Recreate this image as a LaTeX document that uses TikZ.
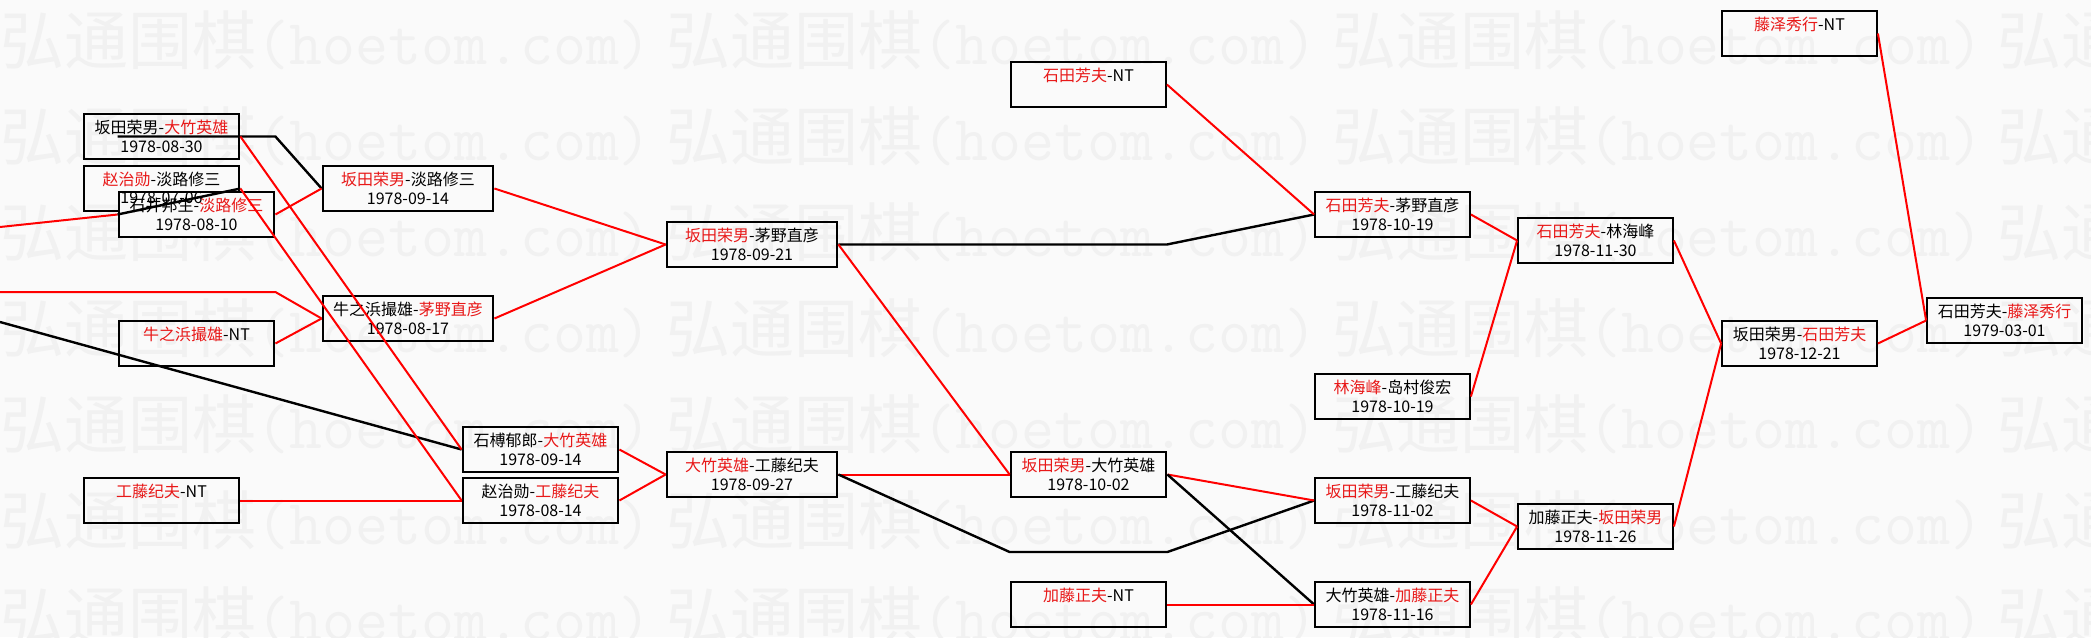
\documentclass[tikz,border=0pt]{standalone}
\usepackage{fontspec}
\setmainfont{Noto Sans CJK SC}
\usepackage{xcolor}
\usetikzlibrary{positioning}
\definecolor{paper}{RGB}{250,250,250}
\definecolor{mark}{RGB}{241,241,241}
\definecolor{winred}{RGB}{232,24,24}
\newcommand{\redname}[1]{\textcolor{winred}{#1}}
\tikzset{
    match/.style={draw, line width=0.9pt, minimum width=77.5pt, minimum height=22.5pt,
        inner sep=0pt, align=center, font=\fontsize{8}{9.5}\selectfont}, % one game box
    wide/.style={minimum width=85pt}, % the longer boxes
    heavy/.style={line width=1.4pt}, % thicker frame on the left half
    redline/.style={draw=red, line width=1pt},
    blackline/.style={draw=black, line width=1.2pt},
    watermark/.style={anchor=west, text=mark, inner sep=0pt, font=\fontsize{32}{32}\selectfont},
}

\begin{document}
\begin{tikzpicture}[x=0.5pt, y=-0.5pt]
    \fill[paper] (0,0) rectangle (2091,637);
    \useasboundingbox (0,0) rectangle (2091,637);

    % background stamp
    \foreach \row in {40,136,...,616}
        \node[watermark] (wm\row) at (0,\row)
            {弘通围棋\texttt{(hoetom.com)}~弘通围棋\texttt{(hoetom.com)}~弘通围棋\texttt{(hoetom.com)}~弘通围棋\texttt{(hoetom.com)}};

    % first rounds
    \node[match, heavy] (A) at (161.5,136.5) {坂田荣男-\redname{大竹英雄}\\1978-08-30};
    \node[match, heavy] (B) at (161.5,188.5) {\redname{赵治勋}-淡路修三\\1978-07-06};
    \node[match, heavy, fill=paper] (C) at (196.5,214.5) {石井邦生-\redname{淡路修三}\\1978-08-10};
    \node[font=\fontsize{8}{9.5}\selectfont, inner sep=0pt, anchor=base] (Bdate) at ([yshift=-19.5pt]B.north) {1978-07-06};
    \node[match, heavy] (F) at (196.5,343.5) {\redname{牛之浜撮雄}-NT\\\phantom{0}};
    \node[match, heavy] (G) at (161.5,500.5) {\redname{工藤纪夫}-NT\\\phantom{0}};

    \node[match, wide, heavy] (D) at (408,188.5) {\redname{坂田荣男}-淡路修三\\1978-09-14};
    \node[match, wide, heavy] (E) at (408,318.5) {牛之浜撮雄-\redname{茅野直彦}\\1978-08-17};
    \node[match, heavy] (H1) at (540.5,449.5) {石榑郁郎-\redname{大竹英雄}\\1978-09-14};
    \node[match, heavy] (H2) at (540.5,500.5) {赵治勋-\redname{工藤纪夫}\\1978-08-14};

    \node[match, wide, heavy] (K1) at (752,244.5) {\redname{坂田荣男}-茅野直彦\\1978-09-21};
    \node[match, wide, heavy] (K2) at (752,474.5) {\redname{大竹英雄}-工藤纪夫\\1978-09-27};

    \node[match] (M1) at (1088.5,84.5) {\redname{石田芳夫}-NT\\\phantom{0}};
    \node[match, heavy] (M2) at (1088.5,474.5) {\redname{坂田荣男}-大竹英雄\\1978-10-02};
    \node[match] (M3) at (1088.5,604.5) {\redname{加藤正夫}-NT\\\phantom{0}};

    \node[match] (P1) at (1392.5,214.5) {\redname{石田芳夫}-茅野直彦\\1978-10-19};
    \node[match] (P2) at (1392.5,396.5) {\redname{林海峰}-岛村俊宏\\1978-10-19};
    \node[match] (P3) at (1392.5,500.5) {\redname{坂田荣男}-工藤纪夫\\1978-11-02};
    \node[match] (P4) at (1392.5,604.5) {大竹英雄-\redname{加藤正夫}\\1978-11-16};

    \node[match] (Q1) at (1595.5,240.5) {\redname{石田芳夫}-林海峰\\1978-11-30};
    \node[match] (Q2) at (1595.5,526.5) {加藤正夫-\redname{坂田荣男}\\1978-11-26};

    \node[match] (R1) at (1799.5,343.5) {坂田荣男-\redname{石田芳夫}\\1978-12-21};
    \node[match] (R2) at (1799.5,33.5) {\redname{藤泽秀行}-NT\\\phantom{0}};
    \node[match] (S1) at (2004.5,320.5) {石田芳夫-\redname{藤泽秀行}\\1979-03-01};

    % loose ends coming in from the left
    \coordinate (inA) at (0,227);
    \coordinate (inB) at (0,292);
    \coordinate (inC) at (0,322);
    \coordinate (gap) at (1088.5,552);

    % connectors
    \draw[redline] (inA) -- (C.west);
    \draw[redline] (inB) -- (inB -| C.east) -- (E.west);
    \draw[blackline] (inC) -- (H1.west);
    \draw[blackline] (C.west |- A.east) -- (C.east |- A.east) -- (D.west);
    \draw[blackline] (B.east) -- (C.west);
    \draw[redline] (A.east) -- (H1.west);
    \draw[redline] (B.east) -- (H2.west);
    \draw[redline] (C.east) -- (D.west);
    \draw[redline] (F.east) -- (E.west);
    \draw[redline] (G.east) -- (H2.west);
    \draw[redline] (D.east) -- (K1.west);
    \draw[redline] (E.east) -- (K1.west);
    \draw[redline] (H1.east) -- (K2.west);
    \draw[redline] (H2.east) -- (K2.west);
    \draw[blackline] (K1.east) -- (M1.east |- K1.east) -- (P1.west);
    \draw[redline] (K1.east) -- (M2.west);
    \draw[redline] (K2.east) -- (M2.west);
    \draw[blackline] (K2.east) -- (gap -| M2.west) -- (gap -| M2.east) -- (P3.west);
    \draw[redline] (M1.east) -- (P1.west);
    \draw[redline] (M2.east) -- (P3.west);
    \draw[blackline] (M2.east) -- (P4.west);
    \draw[redline] (M3.east) -- (P4.west);
    \draw[redline] (P1.east) -- (Q1.west);
    \draw[redline] (P2.east) -- (Q1.west);
    \draw[redline] (P3.east) -- (Q2.west);
    \draw[redline] (P4.east) -- (Q2.west);
    \draw[redline] (Q1.east) -- (R1.west);
    \draw[redline] (Q2.east) -- (R1.west);
    \draw[redline] (R2.east) -- (S1.west);
    \draw[redline] (R1.east) -- (S1.west);
\end{tikzpicture}
\end{document}
